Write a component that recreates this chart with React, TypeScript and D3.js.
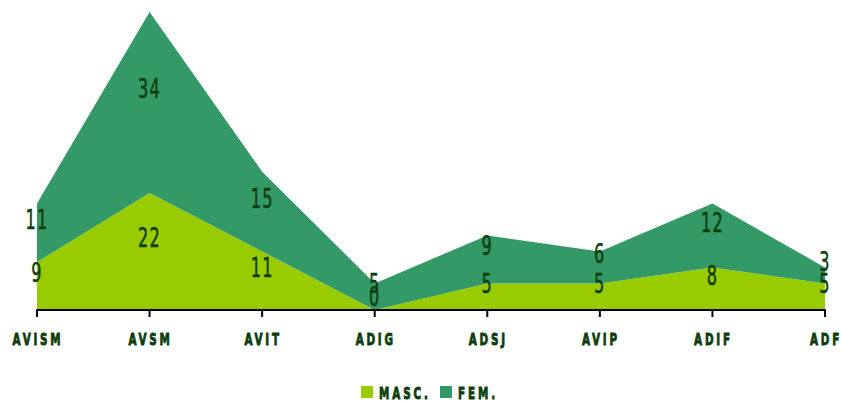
import React, { useEffect, useRef } from 'react';
import * as d3 from 'd3';

const categories = ['AVISM', 'AVSM', 'AVIT', 'ADIG', 'ADSJ', 'AVIP', 'ADIF', 'ADF'];
const masc = [9, 22, 11, 0, 5, 5, 8, 5];
const fem = [11, 34, 15, 5, 9, 6, 12, 3];
const seriesNames = ['MASC.', 'FEM.'];
const seriesColors = ['#99cc00', '#339966'];

const FONT = '"DejaVu Sans", sans-serif';
const INK = '#0d3d0d';

function App() {
    const svgRef = useRef<SVGSVGElement>(null);

    useEffect(() => {
        document.body.style.margin = '0';
        const svg = d3.select(svgRef.current);
        svg.selectAll('*').remove();

        const width = 841;
        const height = 402;
        svg.attr('width', width).attr('height', height);

        // condensed text: squeeze the glyphs horizontally
        const narrowText = (g: any, tx: number, ty: number, str: string, opts: any) => {
            g.append('g')
                .attr('transform', `translate(${tx},${ty}) scale(${opts.sx},1)`)
                .append('text')
                .attr('x', 0).attr('y', 0)
                .attr('text-anchor', opts.anchor || 'middle')
                .style('font-family', FONT)
                .style('font-weight', opts.bold ? 'bold' : 'normal')
                .style('font-size', opts.size + 'px')
                .style('letter-spacing', (opts.ls || 0) + 'px')
                .attr('fill', INK)
                .attr('stroke', INK)
                .attr('stroke-width', opts.sw || 0)
                .text(str);
        };

        const rows = categories.map((c, i) => ({ cat: c, masc: masc[i], fem: fem[i] }));
        const stacked = d3.stack<any>().keys(['masc', 'fem'])(rows);

        const x = d3.scalePoint().domain(categories).range([37, 825]);
        const maxY = d3.max(stacked[stacked.length - 1], d => d[1]) as number;
        const y = d3.scaleLinear().domain([0, maxY]).range([310, 12]);

        const area = d3.area<any>()
            .x(d => x(d.data.cat) as number)
            .y0(d => y(d[0]))
            .y1(d => y(d[1]));

        svg.selectAll('.area')
            .data(stacked)
            .enter()
            .append('path')
            .attr('class', 'area')
            .attr('d', d => area(d) as string)
            .attr('fill', (d, i) => seriesColors[i]);

        // x axis
        const axis = svg.append('g').attr('transform', 'translate(0,310)');
        axis.append('line')
            .attr('x1', 36).attr('x2', 826)
            .attr('y1', 0).attr('y2', 0)
            .attr('stroke', '#000').attr('stroke-width', 2);
        axis.selectAll('.tick')
            .data(categories)
            .enter()
            .append('line')
            .attr('x1', d => x(d) as number).attr('x2', d => x(d) as number)
            .attr('y1', 0).attr('y2', 7)
            .attr('stroke', '#000').attr('stroke-width', 2);
        categories.forEach(c => {
            narrowText(axis, (x(c) as number) + 1, 35, c, { sx: 0.63, size: 16.5, bold: true, ls: 4.4, sw: 0.9 });
        });

        // data labels: baseline a little above the middle of each band
        stacked.forEach(s => {
            s.forEach(d => {
                narrowText(svg, x(d.data.cat) as number, y((d[0] + d[1]) / 2) - 4, String(d[1] - d[0]),
                    { sx: 0.62, size: 26, ls: 2, sw: 0.5 });
            });
        });

        // legend
        const legendX = [361, 440];
        seriesNames.forEach((name, i) => {
            svg.append('rect')
                .attr('x', legendX[i]).attr('y', 386)
                .attr('width', 12).attr('height', 12)
                .attr('fill', seriesColors[i]);
            narrowText(svg, legendX[i] + 18, 399, name, { sx: 0.63, size: 16.5, bold: true, ls: 4.6, sw: 0.9, anchor: 'start' });
        });
    }, []);

    return <svg ref={svgRef} style={{ display: 'block' }}></svg>;
}

export default App;
